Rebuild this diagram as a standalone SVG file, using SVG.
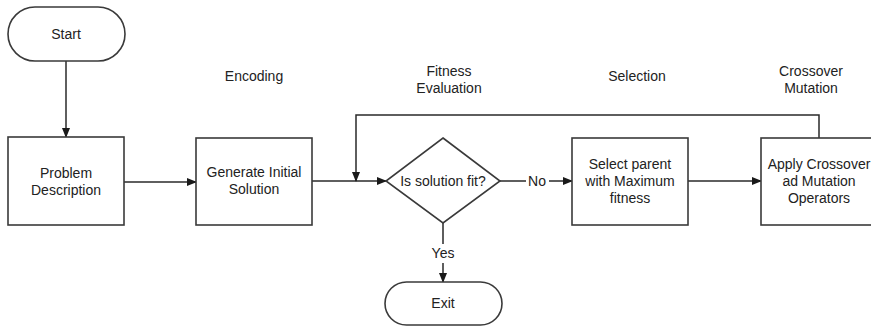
<svg xmlns="http://www.w3.org/2000/svg" width="871" height="329" viewBox="0 0 871 329">
<style>
.s{fill:#fff;stroke:#3a3a3a;stroke-width:1.6}
.c{fill:none;stroke:#2a2a2a;stroke-width:1.5}
text{font-family:"Liberation Sans",Arial,sans-serif;font-size:14px;fill:#222;text-anchor:middle;dominant-baseline:central}
</style>
<defs>
<marker id="a" markerWidth="10" markerHeight="8" refX="9" refY="4" orient="auto" markerUnits="userSpaceOnUse">
<path d="M0,0 L10,4 L0,8 Z" fill="#1a1a1a"/>
</marker>
</defs>
<rect width="871" height="329" fill="#fff"/>
<g id="labels">
<text x="254" y="76">Encoding</text>
<text x="449" y="71">Fitness</text>
<text x="449" y="88">Evaluation</text>
<text x="637" y="76">Selection</text>
<text x="811" y="71">Crossover</text>
<text x="811" y="88">Mutation</text>
</g>
<g id="connectors">
<path class="c" d="M66,61 V137" marker-end="url(#a)"/>
<path class="c" d="M124,182 H196" marker-end="url(#a)"/>
<path class="c" d="M312,181 H386" marker-end="url(#a)"/>
<path class="c" d="M819,138 V115 H356 V181" marker-end="url(#a)"/>
<path class="c" d="M500,181 H526 M549,181 H572" marker-end="url(#a)"/>
<text x="537" y="181">No</text>
<path class="c" d="M443,223 V244 M443,263 V282" marker-end="url(#a)"/>
<text x="443" y="253">Yes</text>
<path class="c" d="M688,181 H761" marker-end="url(#a)"/>
</g>
<g id="start">
<rect class="s" x="8" y="7" width="117" height="54" rx="27"/>
<text x="66" y="34">Start</text>
</g>
<g id="problem">
<rect class="s" x="8" y="137" width="116" height="88"/>
<text x="66" y="173">Problem</text>
<text x="66" y="190">Description</text>
</g>
<g id="generate">
<rect class="s" x="196" y="138" width="116" height="87"/>
<text x="254" y="172">Generate Initial</text>
<text x="254" y="189">Solution</text>
</g>
<g id="fit">
<path class="s" d="M443,138 L500,181 L443,223 L386,181 Z"/>
<text x="443" y="181">Is solution fit?</text>
</g>
<g id="exit">
<rect class="s" x="385" y="282" width="117" height="43" rx="21.5"/>
<text x="443" y="303">Exit</text>
</g>
<g id="select">
<rect class="s" x="572" y="138" width="116" height="87"/>
<text x="630" y="164">Select parent</text>
<text x="630" y="181">with Maximum</text>
<text x="630" y="198">fitness</text>
</g>
<g id="apply">
<rect class="s" x="761" y="138" width="116" height="87"/>
<text x="819" y="164">Apply Crossover</text>
<text x="819" y="181">ad Mutation</text>
<text x="819" y="198">Operators</text>
</g>
</svg>
